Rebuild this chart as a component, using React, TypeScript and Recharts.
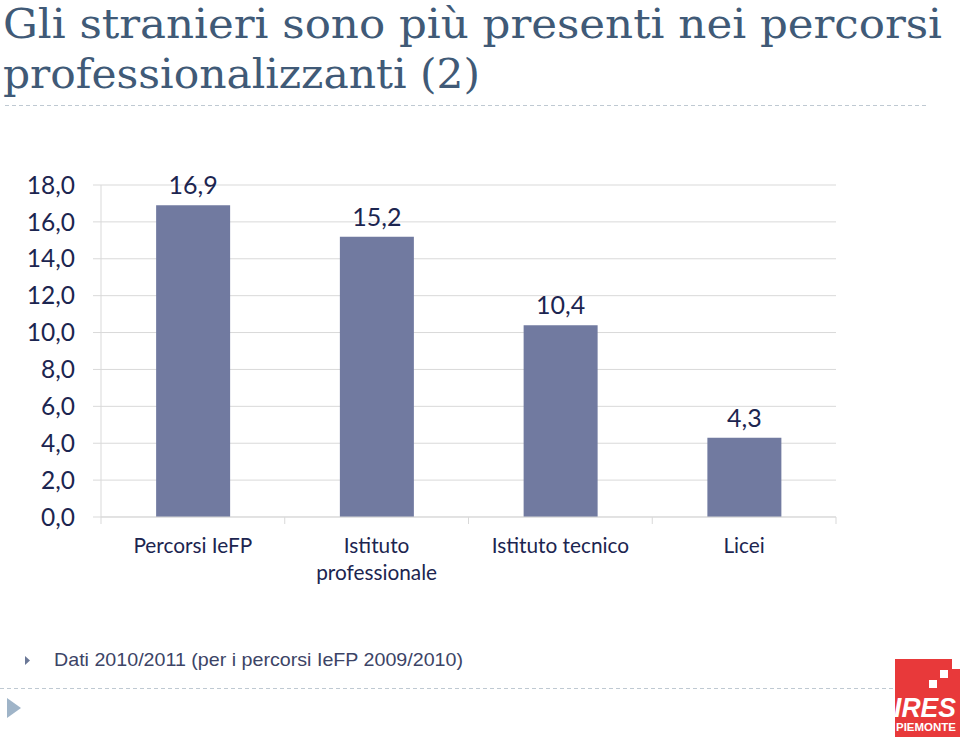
import React from 'react';
import { BarChart, Bar, XAxis, YAxis, CartesianGrid, LabelList } from 'recharts';

const categories = ['Percorsi IeFP', 'Istituto professionale', 'Istituto tecnico', 'Licei'];
const values = [16.9, 15.2, 10.4, 4.3];
const yTicks = [0, 2, 4, 6, 8, 10, 12, 14, 16, 18];
const titleLines = ['Gli stranieri sono più presenti nei percorsi', 'professionalizzanti (2)'];
const footnote = 'Dati 2010/2011 (per i percorsi IeFP 2009/2010)';

const data = categories.map((c, i) => ({ name: c, value: values[i] }));

const NAVY = '#1C2550';
const GRID = '#D9D9D9';
const BAR = '#717AA0';
const FONT = 'Lato, "Open Sans", sans-serif';

const fmt = (v: number) => Number(v).toFixed(1).replace('.', ',');

const wrapLabel = (s: string): string[] => (s.length > 18 ? s.split(' ') : [s]);

function CatTick(props: any) {
  const { x, y, payload, index, visibleTicksCount } = props;
  const off = payload && typeof payload.offset === 'number' ? payload.offset : 0;
  const lines = wrapLabel(String(payload.value));
  return (
    <g>
      {off > 0 && (
        <line x1={x - off} x2={x - off} y1={y - 7} y2={y} stroke={GRID} strokeWidth={1} />
      )}
      {off > 0 && index === visibleTicksCount - 1 && (
        <line x1={x + off} x2={x + off} y1={y - 7} y2={y} stroke={GRID} strokeWidth={1} />
      )}
      <text x={x} y={y + 29} textAnchor="middle" fill={NAVY} fontFamily={FONT} fontSize={20.8}>
        {lines.map((l, i) => (
          <tspan key={i} x={x} dy={i === 0 ? 0 : 27}>
            {l}
          </tspan>
        ))}
      </text>
    </g>
  );
}

export default function App() {
  return (
    <div
      style={{
        position: 'absolute',
        left: 0,
        top: 0,
        width: 960,
        height: 737,
        background: '#fff',
        overflow: 'hidden',
      }}
    >
      <div style={{ position: 'absolute', left: 0, top: 0 }}>
        <BarChart
          width={960}
          height={737}
          data={data}
          margin={{ top: 185, right: 124, left: 0, bottom: 160 }}
          barCategoryGap="30%"
        >
          <CartesianGrid vertical={false} stroke={GRID} strokeWidth={1} />
          <XAxis
            dataKey="name"
            height={60}
            axisLine={{ stroke: GRID }}
            tickLine={false}
            tickSize={7}
            tickMargin={0}
            interval={0}
            tick={<CatTick />}
          />
          <YAxis
            width={101}
            domain={[0, 18]}
            ticks={yTicks}
            interval={0}
            axisLine={{ stroke: GRID }}
            tickLine={{ stroke: GRID }}
            tickSize={8}
            tickMargin={18}
            tickFormatter={fmt}
            tick={{ fill: NAVY, fontFamily: FONT, fontSize: 24.5 }}
          />
          <Bar dataKey="value" fill={BAR} isAnimationActive={false}>
            <LabelList
              dataKey="value"
              position="top"
              offset={11}
              formatter={(v: any) => fmt(v)}
              style={{ fill: NAVY, fontFamily: FONT, fontSize: 25 }}
            />
          </Bar>
        </BarChart>
      </div>
      <svg
        width={960}
        height={737}
        style={{ position: 'absolute', left: 0, top: 0, pointerEvents: 'none' }}
      >
        <text
          x={3}
          y={38}
          fill="#405A77"
          fontFamily='"DejaVu Serif Condensed", "DejaVu Serif", serif'
          fontSize={41}
          textLength={939}
          lengthAdjust="spacingAndGlyphs"
        >
          {titleLines[0]}
        </text>
        <text
          x={3}
          y={88}
          fill="#405A77"
          fontFamily='"DejaVu Serif Condensed", "DejaVu Serif", serif'
          fontSize={41}
          textLength={477}
          lengthAdjust="spacingAndGlyphs"
        >
          {titleLines[1]}
        </text>
        <line x1={5} x2={926} y1={105.5} y2={105.5} stroke="#BFC9D2" strokeWidth={1} strokeDasharray="4 3" />
        <polygon points="25,656 30,660.5 25,665" fill="#6B7897" />
        <text
          x={54}
          y={666}
          fill="#3C4466"
          fontFamily='"Liberation Sans", Arial, sans-serif'
          fontSize={18.5}
          textLength={409}
          lengthAdjust="spacingAndGlyphs"
        >
          {footnote}
        </text>
        <line x1={0} x2={930} y1={688.5} y2={688.5} stroke="#BFC9D2" strokeWidth={1} strokeDasharray="4 3" />
        <polygon points="7,698 21,708 7,718" fill="#9FB4C8" />
        <g>
          <rect x={895} y={659} width={65} height={78} fill="#E8393A" />
          <rect x={952} y={659} width={8} height={10} fill="#fff" />
          <rect x={940} y={670} width={8} height={8} fill="#fff" />
          <rect x={929} y={680} width={8} height={8} fill="#fff" />
          <text
            x={894}
            y={717}
            fill="#fff"
            fontFamily='"Liberation Sans", Arial, sans-serif'
            fontWeight="bold"
            fontStyle="italic"
            fontSize={28}
            textLength={62}
            lengthAdjust="spacingAndGlyphs"
          >
            IRES
          </text>
          <text
            x={896}
            y={731}
            fill="#fff"
            fontFamily='"Liberation Sans", Arial, sans-serif'
            fontWeight="bold"
            fontSize={10}
            textLength={60}
            lengthAdjust="spacingAndGlyphs"
          >
            PIEMONTE
          </text>
        </g>
      </svg>
    </div>
  );
}
